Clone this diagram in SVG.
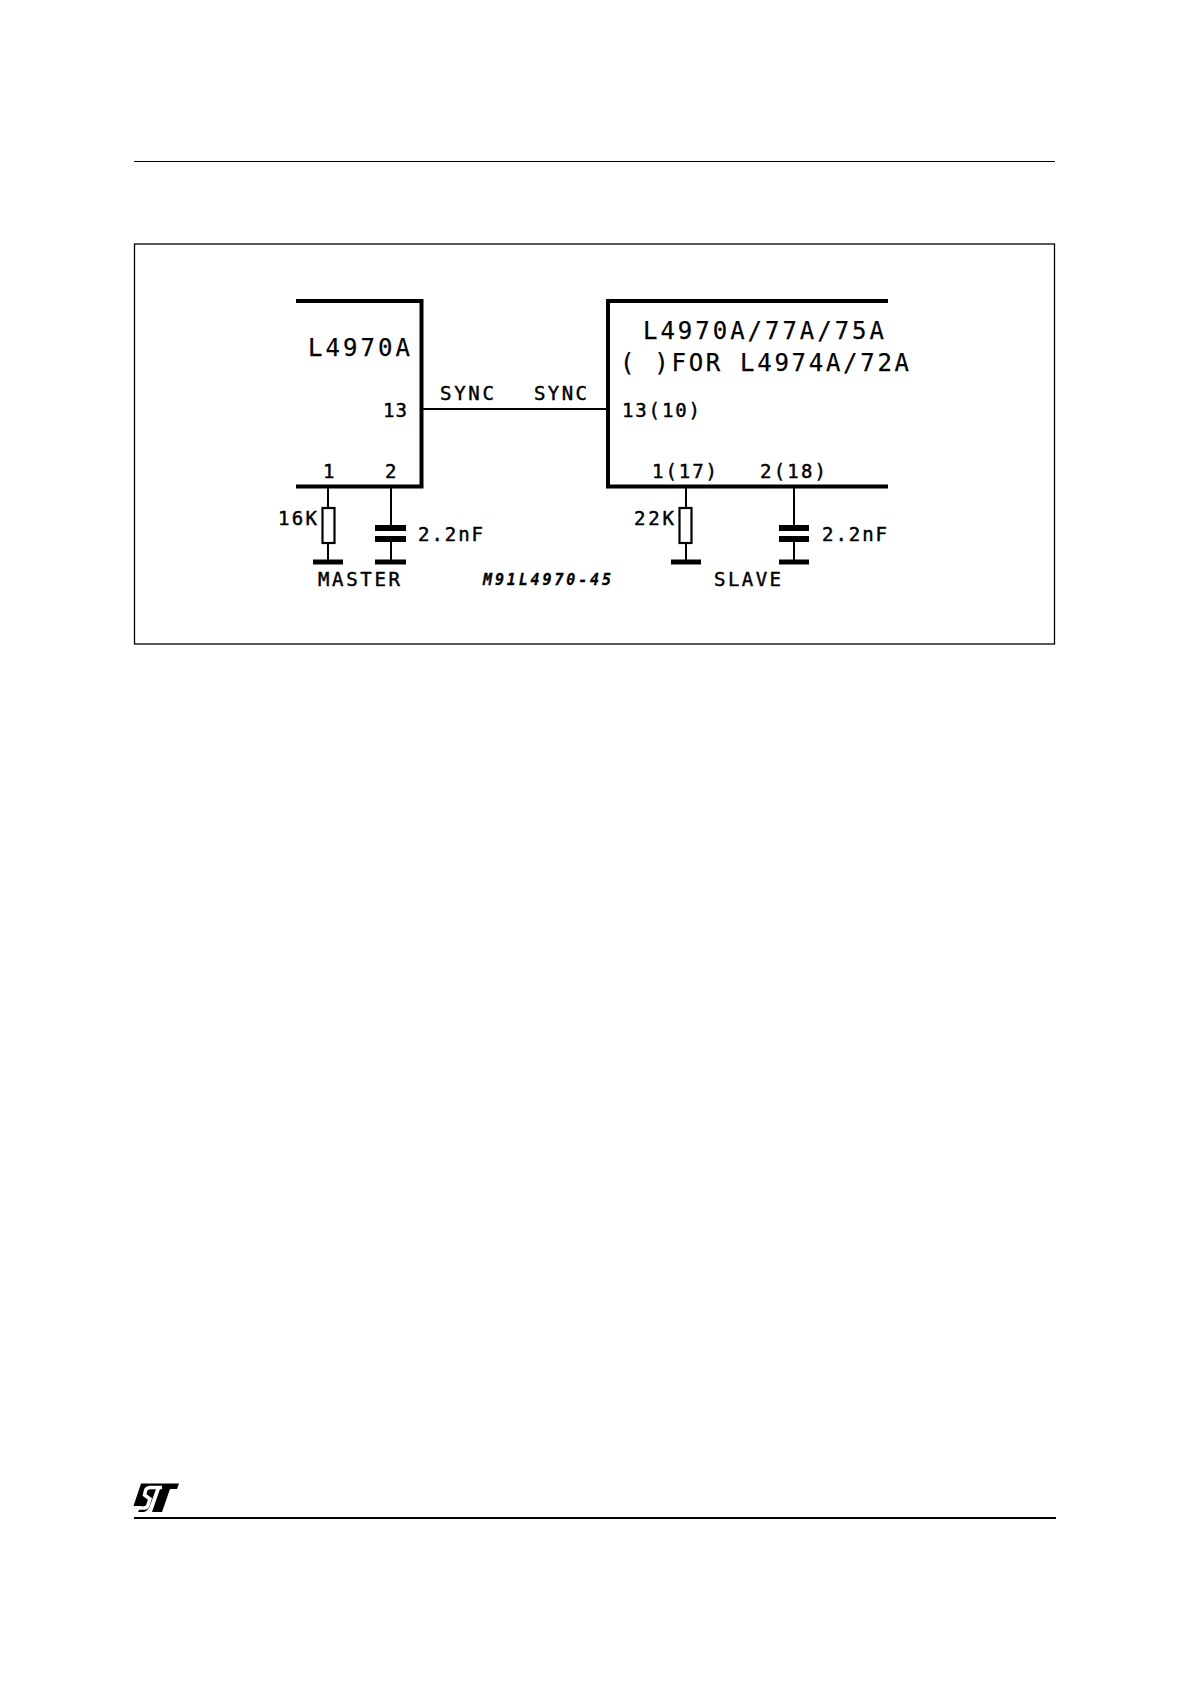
<svg xmlns="http://www.w3.org/2000/svg" width="1191" height="1685" viewBox="0 0 1191 1685">
<style>
text{font-family:"DejaVu Sans Mono","Liberation Mono",monospace;fill:#000;stroke:#000}
.l{font-size:24px;stroke-width:.25px}.s{font-size:19px;stroke-width:.45px}.m{font-size:15px;font-weight:bold;font-style:italic;stroke-width:.3px}
.ic{fill:none;stroke:#000;stroke-width:4}
.w{fill:none;stroke:#000;stroke-width:2}
.g{stroke:#000;stroke-width:5;fill:none}
.c{stroke:#000;stroke-width:6;fill:none}
.r{fill:#fff;stroke:#000;stroke-width:2.2}
</style>
<rect width="1191" height="1685" fill="#fff"/>
<g id="page-rules">
<line x1="134" y1="161.5" x2="1055" y2="161.5" stroke="#000" stroke-width="1.2"/>
<line x1="134" y1="1518" x2="1056" y2="1518" stroke="#000" stroke-width="1.8"/>
</g>
<g id="frame"><rect x="134.500" y="244" width="920" height="400" fill="none" stroke="#000" stroke-width="1.300"/></g>
<g id="connectors">
<line class="w" x1="422" y1="409" x2="608" y2="409"/>
<path class="w" d="M328 487V508M328 543V562M391 487V525M391 539V562M686 487V508M686 543V562M794 487V525M794 539V562"/>
</g>
<g id="master-ic">
<path class="ic" d="M296 301H421.500V486.500H296"/>
<text class="l" x="308" y="356" textLength="102">L4970A</text>
<text class="s" x="383" y="417" textLength="24">13</text>
<text class="s" x="323" y="478" textLength="11">1</text>
<text class="s" x="385" y="478" textLength="11">2</text>
</g>
<g id="slave-ic">
<path class="ic" d="M888 301H608V486.500H888"/>
<text class="l" x="643" y="339" textLength="241">L4970A/77A/75A</text>
<text class="l" x="620" y="371" textLength="289">( )FOR L4974A/72A</text>
<text class="s" x="622" y="417" textLength="78">13(10)</text>
<text class="s" x="652" y="478" textLength="65">1(17)</text>
<text class="s" x="760" y="478" textLength="66">2(18)</text>
</g>
<g id="sync-labels">
<text class="s" x="440" y="400" textLength="54">SYNC</text>
<text class="s" x="534" y="400" textLength="53">SYNC</text>
</g>
<g id="r-master">
<rect class="r" x="322.500" y="508" width="12" height="35"/>
<line class="g" x1="313" y1="562" x2="343" y2="562"/>
<text class="s" x="278" y="525" textLength="39">16K</text>
</g>
<g id="c-master">
<line class="c" x1="375" y1="528" x2="406" y2="528"/>
<line class="c" x1="375" y1="539" x2="406" y2="539"/>
<line class="g" x1="375" y1="562" x2="406" y2="562"/>
<text class="s" x="418" y="541" textLength="65">2.2nF</text>
</g>
<g id="r-slave">
<rect class="r" x="679.500" y="508" width="12" height="35"/>
<line class="g" x1="671" y1="562" x2="701" y2="562"/>
<text class="s" x="634" y="525" textLength="40">22K</text>
</g>
<g id="c-slave">
<line class="c" x1="779" y1="528" x2="809" y2="528"/>
<line class="c" x1="779" y1="539" x2="809" y2="539"/>
<line class="g" x1="779" y1="562" x2="809" y2="562"/>
<text class="s" x="822" y="541" textLength="65">2.2nF</text>
</g>
<g id="captions">
<text class="s" x="318" y="586" textLength="82">MASTER</text>
<text class="s" x="714" y="586" textLength="67">SLAVE</text>
<text class="m" x="483" y="585" textLength="128">M91L4970-45</text>
</g>
<g id="logo">
<path fill="#000" d="M141 1483.500H179L177 1489H170L162 1512H152L160 1489H156L151 1503Q148 1512 143 1512H138L141 1506H133.500Z"/>
<path fill="none" stroke="#fff" stroke-width="3.500" d="M162 1487.500H151Q146 1487.500 145.500 1491L144.500 1495L150 1499L148 1505Q147 1508 144 1508H135"/>
</g>
</svg>
